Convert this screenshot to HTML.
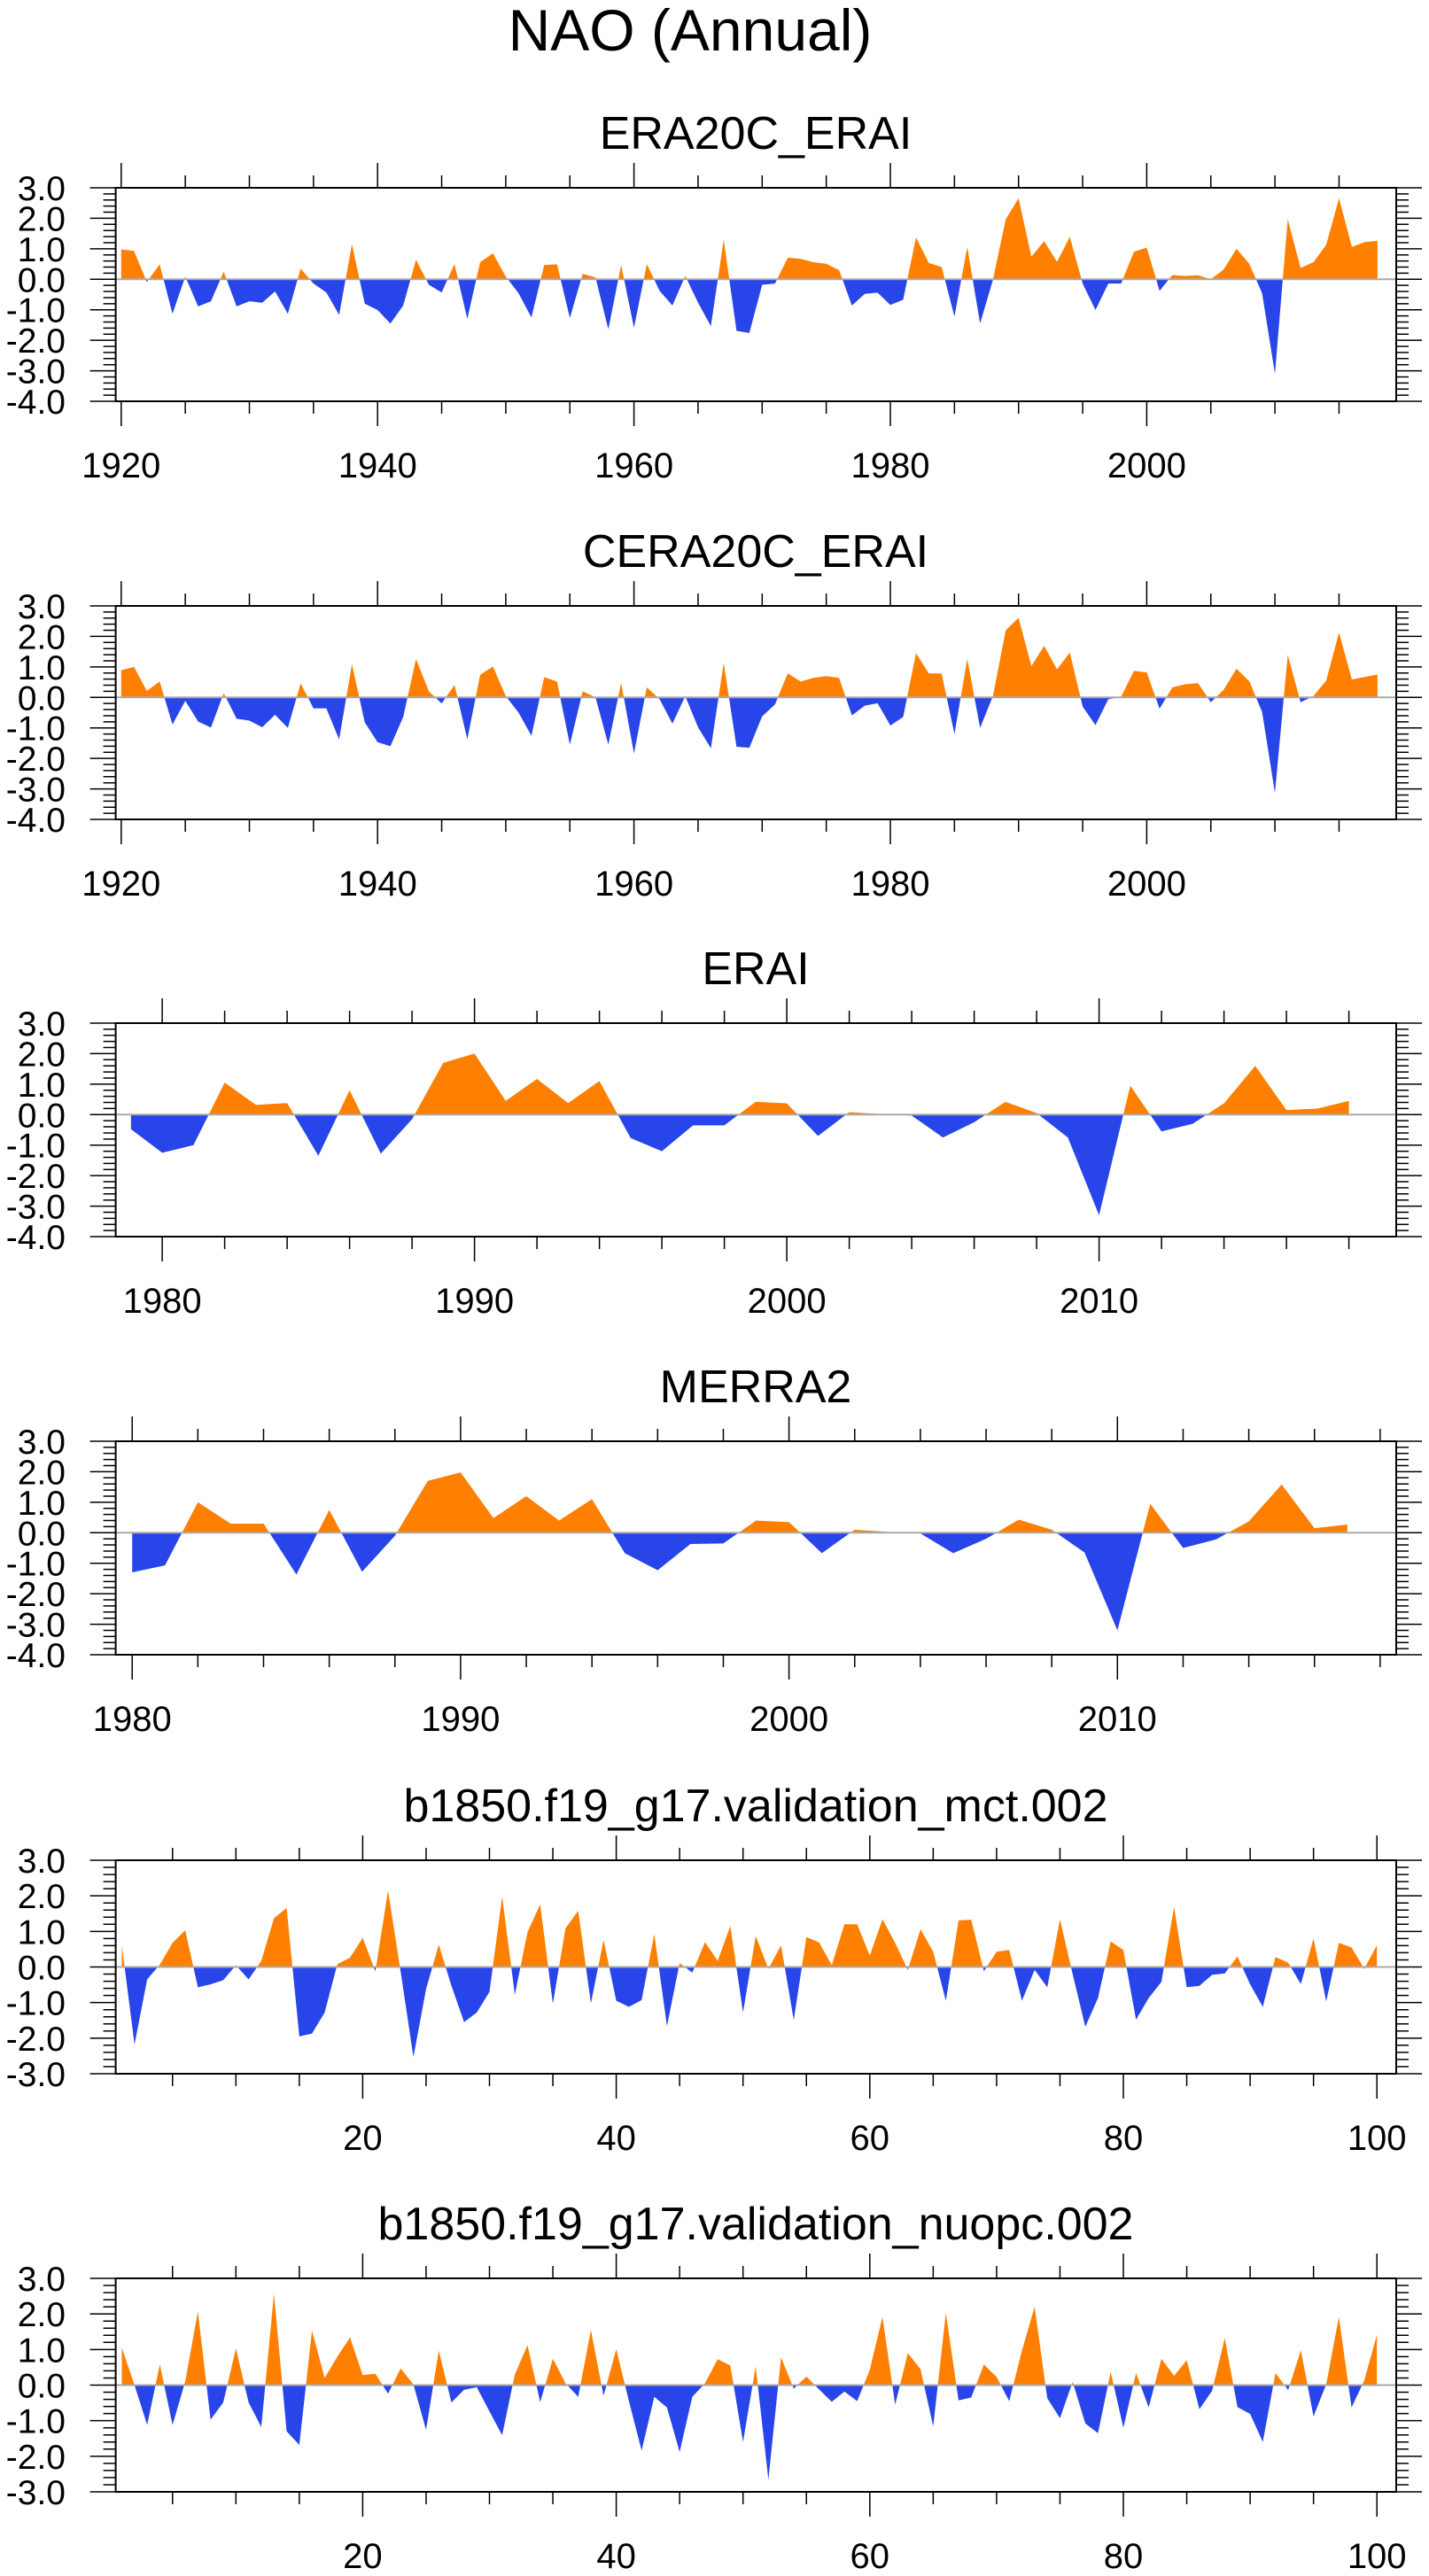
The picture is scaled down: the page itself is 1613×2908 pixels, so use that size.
<!DOCTYPE html>
<html>
<head>
<meta charset="utf-8">
<style>
html,body{margin:0;padding:0;background:#fff;}
svg{display:block;font-family:"Liberation Sans",Arial,sans-serif;}
</style>
</head>
<body>
<svg id="chart" width="1613" height="2908" viewBox="0 0 1613 2908" xmlns="http://www.w3.org/2000/svg">
<text x="779" y="57" font-size="66" text-anchor="middle" fill="#000">NAO (Annual)</text>
</svg>
<script>
// ---- data ----
const era20cYears = []; for (let y = 1920; y <= 2018; y++) era20cYears.push(y);
const era20cValues = [0.98,0.93,-0.09,0.49,-1.13,0.09,-0.89,-0.72,0.25,-0.89,-0.72,-0.77,-0.4,-1.13,0.35,-0.14,-0.43,-1.17,1.15,-0.8,
-1.01,-1.45,-0.86,0.64,-0.18,-0.43,0.5,-1.3,0.56,0.85,0.09,-0.46,-1.25,0.47,0.49,-1.27,0.18,0.06,-1.64,0.47,
-1.59,0.5,-0.38,-0.86,0.11,-0.77,-1.54,1.3,-1.69,-1.76,-0.18,-0.14,0.71,0.67,0.56,0.51,0.3,-0.86,-0.48,-0.44,
-0.84,-0.67,1.37,0.54,0.4,-1.22,1.06,-1.45,-0.02,1.97,2.66,0.74,1.25,0.57,1.39,-0.14,-1.01,-0.14,-0.14,0.9,
1.04,-0.38,0.14,0.11,0.13,0.0,0.32,1.0,0.51,-0.46,-3.1,1.97,0.37,0.56,1.13,2.66,1.06,1.22,1.26];
const cera20cValues = [0.89,1.0,0.21,0.52,-0.89,-0.11,-0.79,-0.99,0.14,-0.7,-0.76,-0.98,-0.57,-1.0,0.46,-0.36,-0.36,-1.38,1.09,-0.82,
-1.47,-1.6,-0.64,1.26,0.2,-0.2,0.41,-1.37,0.74,1.01,0.04,-0.5,-1.26,0.66,0.52,-1.55,0.2,0.0,-1.55,0.48,
-1.84,0.33,-0.06,-0.86,0.04,-0.98,-1.67,1.13,-1.62,-1.65,-0.62,-0.23,0.79,0.52,0.64,0.7,0.64,-0.59,-0.27,-0.19,
-0.92,-0.64,1.45,0.79,0.78,-1.2,1.26,-1.0,0.04,2.2,2.61,1.03,1.69,0.92,1.47,-0.3,-0.91,-0.06,0.02,0.87,
0.82,-0.37,0.33,0.43,0.47,-0.16,0.25,0.94,0.53,-0.48,-3.13,1.4,-0.16,0.04,0.55,2.13,0.59,0.67,0.75];
const eraiYears = []; for (let y = 1979; y <= 2018; y++) eraiYears.push(y);
const eraiValues = [-0.48,-1.25,-1.0,1.05,0.32,0.38,-1.35,0.8,-1.28,-0.15,1.7,2.0,0.45,1.17,0.38,1.1,-0.77,-1.2,-0.35,-0.35,
0.42,0.37,-0.7,0.08,0.02,-0.03,-0.75,-0.25,0.42,0.05,-0.75,-3.3,0.95,-0.55,-0.3,0.37,1.6,0.15,0.2,0.45];
const merraYears = []; for (let y = 1980; y <= 2017; y++) merraYears.push(y);
const merraValues = [-1.3,-1.07,1.0,0.3,0.3,-1.37,0.75,-1.28,-0.1,1.7,1.98,0.48,1.2,0.4,1.1,-0.67,-1.23,-0.37,-0.35,0.4,
0.35,-0.67,0.1,0.03,-0.02,-0.67,-0.2,0.43,0.1,-0.65,-3.2,0.95,-0.5,-0.22,0.37,1.58,0.15,0.27];
const modelYears = []; for (let y = 1; y <= 100; y++) modelYears.push(y);
const mctValues = [0.61,-2.18,-0.35,0.07,0.68,1.03,-0.57,-0.49,-0.37,0.05,-0.35,0.17,1.37,1.66,-1.95,-1.87,-1.28,0.08,0.26,0.82,
-0.12,2.15,-0.15,-2.53,-0.62,0.63,-0.53,-1.55,-1.28,-0.7,1.98,-0.78,0.98,1.76,-1.03,1.09,1.58,-1.02,0.76,-0.95,
-1.12,-0.93,0.93,-1.66,0.11,-0.16,0.7,0.17,1.15,-1.28,0.87,-0.05,0.61,-1.49,0.84,0.69,0.05,1.2,1.2,0.32,
1.34,0.68,-0.08,1.06,0.43,-0.95,1.31,1.33,-0.12,0.43,0.48,-0.95,-0.08,-0.57,1.34,-0.2,-1.68,-0.87,0.72,0.48,
-1.48,-0.87,-0.42,1.69,-0.57,-0.53,-0.22,-0.18,0.3,-0.49,-1.12,0.28,0.12,-0.48,0.8,-0.97,0.68,0.55,-0.05,0.61];
const nuopcValues = [1.05,0.0,-1.12,0.58,-1.12,0.1,2.07,-0.97,-0.49,1.03,-0.49,-1.18,2.57,-1.3,-1.68,1.53,0.2,0.8,1.34,0.28,
0.32,-0.24,0.47,0.02,-1.26,0.97,-0.49,-0.13,-0.06,-0.74,-1.41,0.3,1.12,-0.48,0.74,0.05,-0.33,1.55,-0.3,1.01,
-0.45,-1.84,-0.33,-0.63,-1.88,-0.33,0.05,0.73,0.55,-1.6,0.53,-2.66,0.78,-0.1,0.24,-0.12,-0.47,-0.18,-0.45,0.43,
1.92,-0.55,0.9,0.45,-1.16,2.03,-0.43,-0.35,0.58,0.23,-0.45,0.97,2.2,-0.37,-0.93,0.09,-1.08,-1.35,0.37,-1.2,
0.34,-0.63,0.74,0.26,0.7,-0.68,-0.16,1.32,-0.62,-0.81,-1.6,0.34,-0.14,0.98,-0.88,0.02,1.92,-0.63,0.13,1.42];
const yTicks7 = [3,2,1,0,-1,-2,-3,-4];
const yTicks6 = [3,2,1,0,-1,-2,-3];
const xLabels1920 = [1920,1940,1960,1980,2000];
const xLabels1980 = [1980,1990,2000,2010];
const xLabelsModel = [20,40,60,80,100];

// ---- layout ----
const SVGNS = "http://www.w3.org/2000/svg";
const svg = document.getElementById('chart');
const BOX_L = 130.6, BOX_R = 1576, BOX_H = 241;
const ORANGE = "#ff8000", BLUE = "#2845ea";

function el(tag, attrs, parent) {
  const e = document.createElementNS(SVGNS, tag);
  for (const k in attrs) e.setAttribute(k, attrs[k]);
  (parent || svg).appendChild(e);
  return e;
}

function drawPanel(p) {
  const g = el('g', {});
  
  
  const top = p.top, bot = top + BOX_H;
  const xs = v => p.x0 + (v - p.v0) * p.dx;
  const ys = v => top + (p.yMax - v) / (p.yMax - p.yMin) * BOX_H;
  const xMinV = p.v0 + (BOX_L - p.x0) / p.dx, xMaxV = p.v0 + (BOX_R - p.x0) / p.dx;

  // title
  const t = el('text', {x: 853, y: top - 44, 'font-size': 52, 'text-anchor': 'middle', fill: '#000'}, g);
  t.textContent = p.title;
  
  

  // series with crossings
  const pts = [];
  for (let i = 0; i < p.xv.length; i++) {
    const x = p.xv[i], v = p.yv[i];
    if (i > 0) {
      const px = p.xv[i-1], pv = p.yv[i-1];
      if ((pv > 0 && v < 0) || (pv < 0 && v > 0)) {
        const f = pv / (pv - v);
        pts.push([px + f * (x - px), 0]);
      }
    }
    pts.push([x, v]);
  }
  const first = pts[0][0], last = pts[pts.length-1][0];
  function poly(clamp) {
    let d = 'M' + xs(first).toFixed(2) + ',' + ys(0).toFixed(2);
    for (const q of pts) d += 'L' + xs(q[0]).toFixed(2) + ',' + ys(clamp(q[1])).toFixed(2);
    d += 'L' + xs(last).toFixed(2) + ',' + ys(0).toFixed(2) + 'Z';
    return d;
  }
  const pos = el('path', {d: poly(v => Math.max(v, 0)), fill: ORANGE, stroke: 'none'}, g);
  
  
  const neg = el('path', {d: poly(v => Math.min(v, 0)), fill: BLUE, stroke: 'none'}, g);
  
  

  // zero line
  const z = el('line', {x1: BOX_L, x2: BOX_R, y1: ys(0), y2: ys(0), stroke: '#aaaaaa', 'stroke-width': 2}, g);
  
  

  // box
  const b = el('rect', {x: BOX_L, y: top, width: BOX_R - BOX_L, height: BOX_H, fill: 'none', stroke: '#000', 'stroke-width': 2}, g);
  
  

  // y ticks
  let td = '';
  for (let v = p.yMin; v <= p.yMax + 1e-6; v += 0.2) {
    const vv = Math.round(v * 10) / 10;
    const yy = ys(vv).toFixed(2);
    const major = Math.abs(vv - Math.round(vv)) < 1e-6;
    const len = major ? 29 : 14;
    td += 'M' + BOX_L + ',' + yy + 'h' + (-len) + 'M' + BOX_R + ',' + yy + 'h' + len;
  }
  // x ticks
  const startMinor = Math.ceil(xMinV / p.minor) * p.minor;
  for (let v = startMinor; v <= xMaxV; v += p.minor) {
    const xx = xs(v).toFixed(2);
    const major = Math.abs(v / p.major - Math.round(v / p.major)) < 1e-6;
    const len = major ? 28 : 14;
    td += 'M' + xx + ',' + top + 'v' + (-len) + 'M' + xx + ',' + bot + 'v' + len;
  }
  const tk = el('path', {d: td, stroke: '#000', 'stroke-width': 1.5, fill: 'none'}, g);
  
  

  // y labels
  for (const v of p.yTicks) {
    const l = el('text', {x: 74, y: ys(v) + 14, 'font-size': 39, 'text-anchor': 'end', fill: '#000'}, g);
    l.textContent = v.toFixed(1);
    
    
  }
  // x labels
  for (const v of p.xLabels) {
    const l = el('text', {x: xs(v), y: bot + 86, 'font-size': 40, 'text-anchor': 'middle', fill: '#000'}, g);
    l.textContent = String(v);
    
    
  }
}

drawPanel({name:'era20c-erai', title:'ERA20C_ERAI', top:212, xv:era20cYears, yv:era20cValues,
  x0:136.8, v0:1920, dx:14.47, yMin:-4, yMax:3, yTicks:yTicks7, major:20, minor:5, xLabels:xLabels1920});
drawPanel({name:'cera20c-erai', title:'CERA20C_ERAI', top:684, xv:era20cYears, yv:cera20cValues,
  x0:136.8, v0:1920, dx:14.47, yMin:-4, yMax:3, yTicks:yTicks7, major:20, minor:5, xLabels:xLabels1920});
drawPanel({name:'erai', title:'ERAI', top:1155, xv:eraiYears, yv:eraiValues,
  x0:183.1, v0:1980, dx:35.25, yMin:-4, yMax:3, yTicks:yTicks7, major:10, minor:2, xLabels:xLabels1980});
drawPanel({name:'merra2', title:'MERRA2', top:1627, xv:merraYears, yv:merraValues,
  x0:149.2, v0:1980, dx:37.07, yMin:-4, yMax:3, yTicks:yTicks7, major:10, minor:2, xLabels:xLabels1980});
drawPanel({name:'mct', title:'b1850.f19_g17.validation_mct.002', top:2100, xv:modelYears, yv:mctValues,
  x0:123.2, v0:0, dx:14.31, yMin:-3, yMax:3, yTicks:yTicks6, major:20, minor:5, xLabels:xLabelsModel});
drawPanel({name:'nuopc', title:'b1850.f19_g17.validation_nuopc.002', top:2572, xv:modelYears, yv:nuopcValues,
  x0:123.2, v0:0, dx:14.31, yMin:-3, yMax:3, yTicks:yTicks6, major:20, minor:5, xLabels:xLabelsModel});
</script>
</body>
</html>
